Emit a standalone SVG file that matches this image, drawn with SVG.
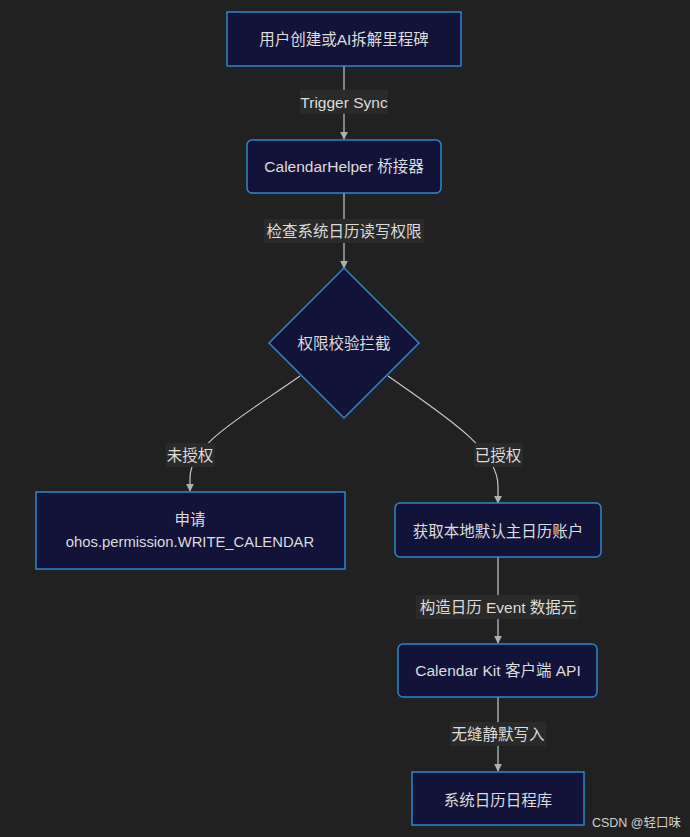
<svg xmlns="http://www.w3.org/2000/svg" width="690" height="837" viewBox="0 0 690 837">
<style>
.bg{fill:#212121}
.node{fill:#13133a;stroke:#2e86c9;stroke-width:1.5}
.t{font-family:"Liberation Sans","Noto Sans CJK SC",sans-serif;font-size:15.5px;fill:#dcdcdc;text-anchor:middle;dominant-baseline:central}
.edge{fill:none;stroke:#c8c8c8;stroke-width:1.2}
.lbg{fill:#2a2a2a}
.wm{font-family:"Liberation Sans","Noto Sans CJK SC",sans-serif;font-size:12.5px;fill:#cfcfcf;text-anchor:end}
</style>
<defs>
<marker id="arr" viewBox="0 0 10 10" refX="9" refY="5" markerWidth="8" markerHeight="8" markerUnits="userSpaceOnUse" orient="auto">
<path d="M0,0 L10,5 L0,10 z" fill="#b0b0b0"/>
</marker>
</defs>
<rect class="bg" x="0" y="0" width="690" height="837"/>
<g id="connectors">
<path class="edge" d="M344,66 L344,139" marker-end="url(#arr)"/>
<path class="edge" d="M344,193 L344,268" marker-end="url(#arr)"/>
<path class="edge" d="M300,376 C240,418 190,445 190,478 L190,491" marker-end="url(#arr)"/>
<path class="edge" d="M388,376 C448,418 498,450 498,486 L498,503" marker-end="url(#arr)"/>
<path class="edge" d="M498,557 L498,643" marker-end="url(#arr)"/>
<path class="edge" d="M498,697 L498,771" marker-end="url(#arr)"/>
<rect class="lbg" x="300" y="90" width="88" height="24"/>
<text class="t" x="344" y="102">Trigger Sync</text>
<rect class="lbg" x="264" y="219" width="160" height="24"/>
<text class="t" x="344" y="231">检查系统日历读写权限</text>
<rect class="lbg" x="166" y="443" width="49" height="24"/>
<text class="t" x="190" y="455">未授权</text>
<rect class="lbg" x="474" y="443" width="49" height="24"/>
<text class="t" x="498" y="455">已授权</text>
<rect class="lbg" x="416" y="595" width="163" height="24"/>
<text class="t" x="498" y="607">构造日历 Event 数据元</text>
<rect class="lbg" x="450" y="722" width="96" height="24"/>
<text class="t" x="498" y="734">无缝静默写入</text>
</g>
<g id="n1">
<rect class="node" x="227" y="12" width="234" height="54"/>
<text class="t" x="344" y="39">用户创建或AI拆解里程碑</text>
</g>
<g id="n2">
<rect class="node" x="247" y="140" width="194" height="53" rx="5"/>
<text class="t" x="344" y="166">CalendarHelper 桥接器</text>
</g>
<g id="n3">
<polygon class="node" points="344,268 419,343 344,418 269,343"/>
<text class="t" x="344" y="343">权限校验拦截</text>
</g>
<g id="n4">
<rect class="node" x="36" y="492" width="309" height="77"/>
<text class="t" x="190" y="519">申请</text>
<text class="t" x="190" y="542" style="font-size:14.8px">ohos.permission.WRITE_CALENDAR</text>
</g>
<g id="n5">
<rect class="node" x="395" y="503" width="206" height="54" rx="5"/>
<text class="t" x="498" y="531">获取本地默认主日历账户</text>
</g>
<g id="n6">
<rect class="node" x="398" y="644" width="199" height="53" rx="5"/>
<text class="t" x="498" y="670">Calendar Kit 客户端 API</text>
</g>
<g id="n7">
<rect class="node" x="412" y="772" width="172" height="53"/>
<text class="t" x="498" y="800">系统日历日程库</text>
</g>
<text class="wm" x="681" y="827">CSDN @轻口味</text>
</svg>
